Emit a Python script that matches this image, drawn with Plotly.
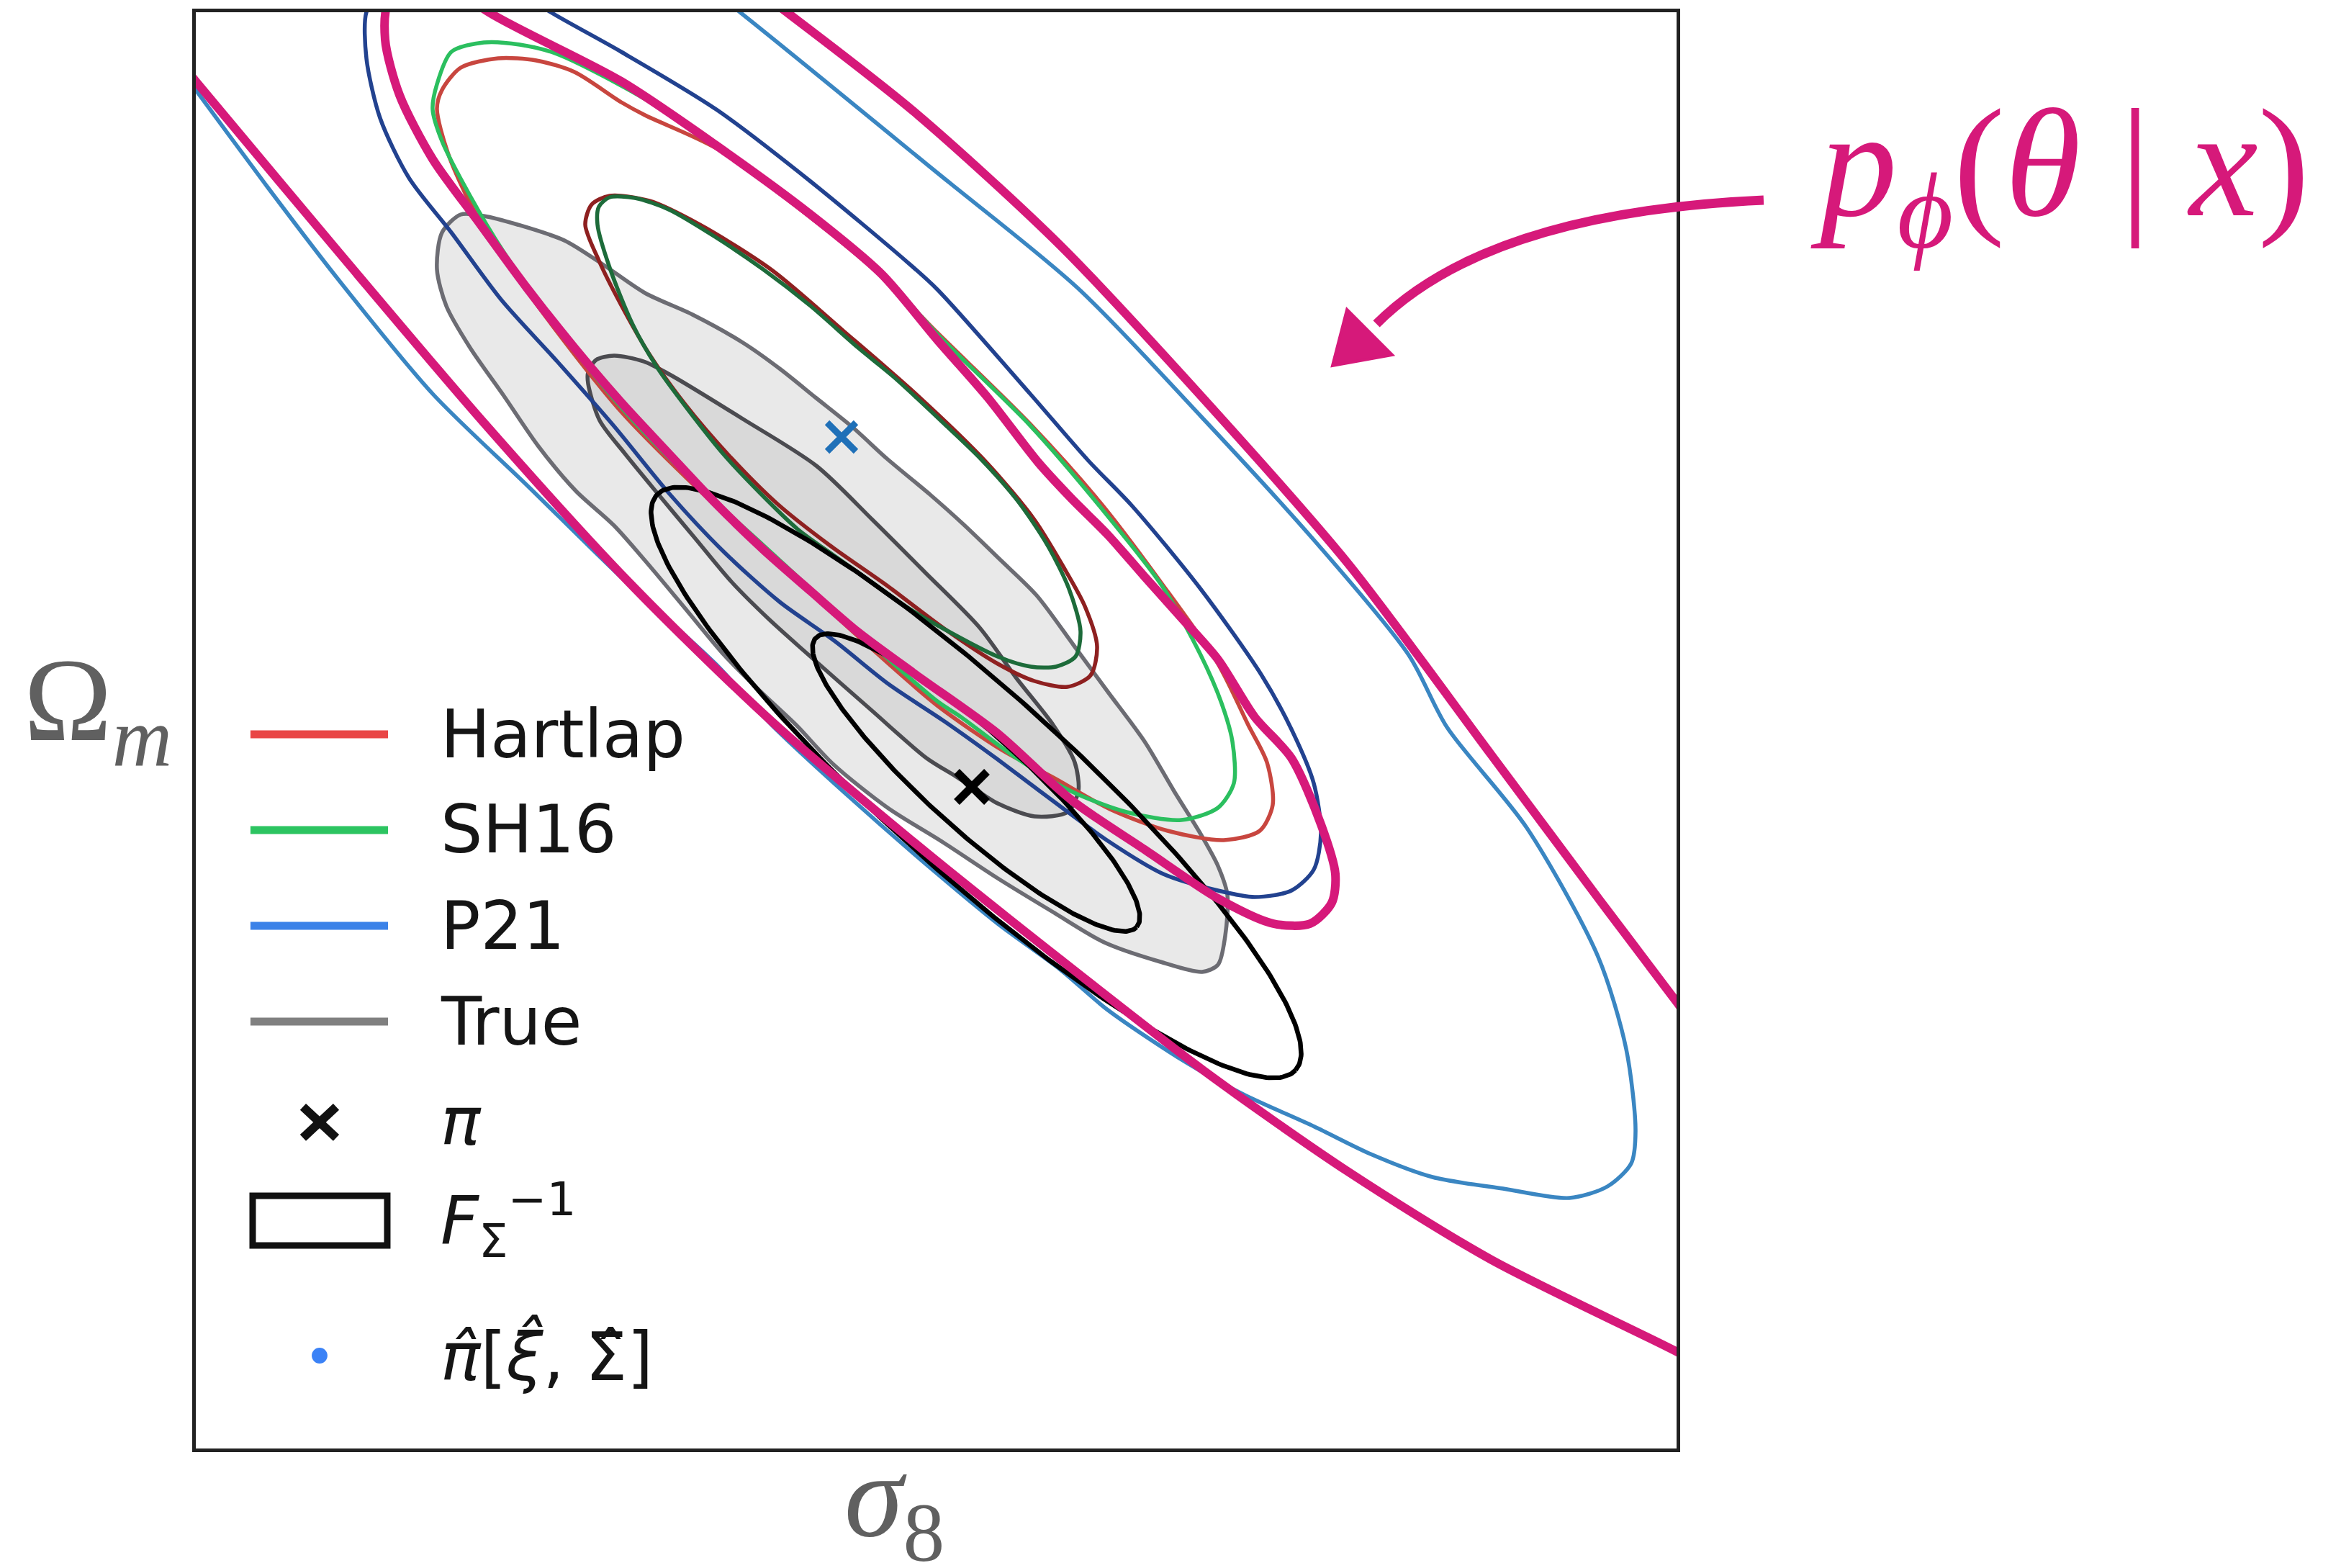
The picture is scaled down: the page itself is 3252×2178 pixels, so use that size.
import numpy as np
import plotly.graph_objects as go

# ---------------- data (plot units: sigma_8 horizontal 0..2057, Omega_m vertical 0..1995) ----------------
X_RANGE = [0, 2057]
Y_RANGE = [0, 1995]

# "True" posterior contours (outer = 2 sigma, inner = 1 sigma)
TRUE_OUTER_X = [368, 400, 447, 512, 565, 624, 690, 760, 811, 862, 913, 960, 1020, 1066, 1117, 1168, 1220, 1267, 1318,
                1359, 1395, 1420, 1433, 1430, 1420, 1398, 1340, 1262, 1191, 1114, 1038, 961, 886, 834, 785, 734, 683,
                632, 581, 528, 476, 428, 381, 348, 335, 342, 368]
TRUE_OUTER_Y = [1714, 1712, 1700, 1678, 1645, 1605, 1575, 1536, 1500, 1459, 1418, 1375, 1325, 1284, 1235, 1185, 1115,
                1051, 982, 913, 855, 809, 769, 712, 672, 662, 676, 703, 745, 792, 842, 890, 950, 1005, 1051, 1102, 1163,
                1224, 1282, 1330, 1392, 1462, 1529, 1587, 1638, 1689, 1714]
TRUE_INNER_X = [545, 556, 581, 622, 658, 760, 862, 940, 1012, 1089, 1140, 1191, 1221, 1226, 1211, 1165, 1114, 1078,
                1055, 1015, 938, 846, 795, 744, 693, 642, 596, 561, 545, 545]
TRUE_INNER_Y = [1495, 1512, 1518, 1510, 1492, 1430, 1365, 1290, 1218, 1140, 1070, 1005, 953, 913, 884, 878, 896, 919,
                934, 959, 1026, 1107, 1153, 1204, 1265, 1326, 1382, 1428, 1479, 1495]

# Hartlap contours
HARTLAP_OUTER_X = [335, 342, 368, 420, 473, 526, 591, 624, 723, 854, 953, 1030, 1159, 1258, 1343, 1420, 1462, 1488,
                   1496, 1478, 1428, 1350, 1270, 1191, 1120, 1030, 920, 788, 690, 591, 499, 427, 381, 350, 335]
HARTLAP_OUTER_Y = [1861, 1887, 1918, 1931, 1928, 1912, 1870, 1852, 1806, 1710, 1628, 1550, 1423, 1312, 1200, 1090,
                   1005, 953, 894, 858, 845, 858, 888, 932, 970, 1032, 1128, 1250, 1340, 1440, 1555, 1655, 1730, 1800,
                   1861]
HARTLAP_INNER_X = [541, 550, 575, 630, 700, 800, 900, 1000, 1100, 1165, 1205, 1235, 1252, 1243, 1211, 1165, 1114, 1038,
                   961, 880, 808, 740, 680, 630, 590, 560, 541]
HARTLAP_INNER_Y = [1700, 1728, 1740, 1733, 1700, 1637, 1552, 1465, 1368, 1290, 1225, 1170, 1114, 1074, 1058, 1066,
                   1090, 1140, 1198, 1255, 1312, 1380, 1450, 1520, 1590, 1650, 1700]

# SH16 contours
SH16_OUTER_X = [335, 355, 400, 450, 499, 591, 690, 723, 854, 953, 1030, 1159, 1258, 1343, 1396, 1425, 1440, 1442, 1420,
                1369, 1293, 1216, 1140, 1063, 1030, 920, 788, 690, 591, 499, 427, 381, 342, 329, 335]
SH16_OUTER_Y = [1895, 1940, 1953, 1950, 1938, 1893, 1835, 1812, 1716, 1633, 1548, 1421, 1306, 1197, 1102, 1035, 982,
                924, 890, 873, 884, 913, 959, 1016, 1038, 1134, 1255, 1344, 1446, 1561, 1663, 1740, 1816, 1860, 1895]
SH16_INNER_X = [560, 575, 610, 657, 723, 788, 854, 920, 970, 1040, 1091, 1142, 1183, 1213, 1229, 1222, 1195, 1160, 1114,
                1040, 989, 938, 887, 836, 785, 734, 683, 642, 607, 575, 558, 560]
SH16_INNER_Y = [1725, 1738, 1737, 1721, 1682, 1638, 1587, 1529, 1488, 1423, 1374, 1316, 1255, 1194, 1135, 1100, 1086,
                1086, 1100, 1138, 1168, 1204, 1240, 1277, 1326, 1380, 1444, 1500, 1561, 1640, 1700, 1725]

# P21 contours (partly outside the frame, clipped)
P21_OUTER_X = [-120, 0, 99, 197, 329, 460, 591, 723, 800, 900, 1028, 1114, 1200, 1267, 1376, 1455, 1554, 1632, 1718,
               1816, 1908, 1961, 1994, 2000, 1987, 1948, 1849, 1738, 1685, 1554, 1396, 1225, 1030, 756, 620]
P21_OUTER_Y = [2050, 1887, 1753, 1625, 1465, 1338, 1210, 1089, 1005, 912, 800, 729, 666, 609, 536, 492, 447, 409, 377,
               361, 348, 364, 396, 441, 555, 683, 862, 1002, 1102, 1261, 1434, 1612, 1772, 1995, 2100]
P21_INNER_X = [420, 330, 255, 237, 237, 256, 296, 355, 424, 502, 581, 658, 734, 811, 887, 962, 1040, 1110, 1170, 1267,
               1344, 1420, 1471, 1522, 1553, 1563, 1553, 1522, 1480, 1395, 1300, 1240, 1159, 1030, 986, 854, 723, 591,
               493, 440]
P21_INNER_Y = [2060, 2050, 2020, 1995, 1931, 1848, 1765, 1689, 1596, 1510, 1420, 1326, 1245, 1176, 1122, 1062, 1010,
               960, 915, 844, 798, 775, 766, 775, 804, 855, 924, 999, 1075, 1195, 1310, 1372, 1465, 1610, 1650, 1760,
               1860, 1940, 1995, 2030]

# Fisher forecast ellipses F_Sigma^-1 (1 and 2 sigma)
FISHER_CENTER = (1084, 925)
FISHER_ANGLE_DEG = -42.0
FISHER_SEMI_MAJOR = [300, 597]
FISHER_SEMI_MINOR = [67, 126]

# point estimates
PI_TRUE = (1078, 919)
PI_HAT = (897, 1405)

# hand-drawn highlight of p_phi(theta|x)
HL_INNER_X = [330, 268, 263, 283, 329, 394, 460, 526, 591, 657, 723, 788, 854, 920, 1000, 1114, 1216, 1318, 1420, 1497,
              1548, 1578, 1583, 1563, 1522, 1471, 1420, 1369, 1318, 1267, 1216, 1170, 1100, 1030, 953, 854, 723, 591,
              407, 340]
HL_INNER_Y = [2060, 2010, 1957, 1880, 1791, 1702, 1612, 1529, 1453, 1382, 1312, 1249, 1191, 1134, 1075, 993, 901, 832,
              764, 729, 729, 758, 798, 867, 959, 1016, 1096, 1154, 1211, 1269, 1320, 1370, 1460, 1540, 1631, 1714,
              1810, 1899, 1995, 2045]
HL_OUTER_X = [760, 821, 1000, 1200, 1400, 1600, 1800, 1950, 2058, 2110, None,
              2110, 2058, 1800, 1600, 1400, 1200, 1000, 800, 600, 400, 200, 0, -50]
HL_OUTER_Y = [2040, 1995, 1855, 1672, 1458, 1230, 963, 762, 619, 548, None,
              105, 134, 262, 385, 525, 680, 840, 1010, 1205, 1425, 1660, 1899, 1960]

LEGEND_LABELS = ["Hartlap", "SH16", "P21", "True", "<i>π</i>",
                 "<i>F</i><sub>Σ</sub><sup>−1</sup>", "<i>π̂</i>[<i>ξ̂</i>, Σ̂]"]
LEGEND_COLORS = ["#e94646", "#2cc461", "#3b82e8", "#808080", "#111111", "#111111", "#3b82f6"]

# ---------------- styling ----------------
PINK = "#d6197a"
C_GRAY_OUT, F_GRAY_OUT = "#6c6c73", "#e9e9e9"
C_GRAY_IN, F_GRAY_IN = "#4b4b50", "#d9d9d9"
LW = 5.5


def ellipse(center, a, b, ang_deg, n=361):
    t = np.linspace(0, 2 * np.pi, n)
    c, s = np.cos(np.radians(ang_deg)), np.sin(np.radians(ang_deg))
    x = center[0] + a * np.cos(t) * c - b * np.sin(t) * s
    y = center[1] + a * np.cos(t) * s + b * np.sin(t) * c
    return x, y


fig = go.Figure()


def curve(x, y, color, width, fill=None, fillcolor=None):
    fig.add_trace(go.Scatter(x=x, y=y, mode="lines", fill=fill, fillcolor=fillcolor,
                             line=dict(color=color, width=width, shape="spline", smoothing=0.8),
                             hoverinfo="skip", showlegend=False))


curve(TRUE_OUTER_X, TRUE_OUTER_Y, C_GRAY_OUT, LW, "toself", F_GRAY_OUT)
curve(TRUE_INNER_X, TRUE_INNER_Y, C_GRAY_IN, LW, "toself", F_GRAY_IN)
curve(P21_OUTER_X, P21_OUTER_Y, "#3a86c2", LW)
curve(P21_INNER_X, P21_INNER_Y, "#22428f", LW)
curve(HARTLAP_OUTER_X, HARTLAP_OUTER_Y, "#c8463f", LW)
curve(SH16_OUTER_X, SH16_OUTER_Y, "#2bbf5f", LW)
curve(HARTLAP_INNER_X, HARTLAP_INNER_Y, "#8e2020", LW)
curve(SH16_INNER_X, SH16_INNER_Y, "#1d6b3a", LW)

for a, b in zip(FISHER_SEMI_MAJOR, FISHER_SEMI_MINOR):
    ex, ey = ellipse(FISHER_CENTER, a, b, FISHER_ANGLE_DEG)
    fig.add_trace(go.Scatter(x=ex, y=ey, mode="lines", line=dict(color="black", width=6.5),
                             hoverinfo="skip", showlegend=False))

curve(HL_INNER_X, HL_INNER_Y, PINK, 12)
curve(HL_OUTER_X, HL_OUTER_Y, PINK, 12)

fig.add_trace(go.Scatter(x=[PI_HAT[0]], y=[PI_HAT[1]], mode="markers",
                         marker=dict(symbol="x-thin", size=40, line=dict(color="#1f70b8", width=9)),
                         hoverinfo="skip", showlegend=False))
fig.add_trace(go.Scatter(x=[PI_TRUE[0]], y=[PI_TRUE[1]], mode="markers",
                         marker=dict(symbol="x-thin", size=42, line=dict(color="black", width=11)),
                         hoverinfo="skip", showlegend=False))

# ---------------- hand-made legend (paper coordinates) ----------------
shapes = []
annotations = []
row_y = [0.4972, 0.4306, 0.3639, 0.2972, 0.2271, 0.1589, 0.0647]
lx0, lx1, lxc, tx = 0.0369, 0.1298, 0.0836, 0.1643
for i in range(4):
    shapes.append(dict(type="line", xref="paper", yref="paper", x0=lx0, x1=lx1, y0=row_y[i], y1=row_y[i],
                       line=dict(color=LEGEND_COLORS[i], width=11)))
dx, dy = 0.0112, 0.0108
for sgn in (1, -1):
    shapes.append(dict(type="line", xref="paper", yref="paper", x0=lxc - dx, x1=lxc + dx,
                       y0=row_y[4] - sgn * dy, y1=row_y[4] + sgn * dy,
                       line=dict(color=LEGEND_COLORS[4], width=12)))
shapes.append(dict(type="rect", xref="paper", yref="paper", x0=0.0384, x1=0.1293, y0=0.1414, y1=0.1759,
                   line=dict(color=LEGEND_COLORS[5], width=9), fillcolor="rgba(0,0,0,0)"))
shapes.append(dict(type="circle", xref="paper", yref="paper", x0=lxc - 0.0053, x1=lxc + 0.0053,
                   y0=row_y[6] - 0.0055, y1=row_y[6] + 0.0055,
                   line=dict(color=LEGEND_COLORS[6], width=0), fillcolor=LEGEND_COLORS[6]))
for lab, yy in zip(LEGEND_LABELS, row_y):
    annotations.append(dict(text=lab, xref="paper", yref="paper", x=tx, y=yy, xanchor="left", yanchor="middle",
                            showarrow=False, font=dict(family="DejaVu Sans", size=92, color="#151515")))

# curved arrow pointing to the highlighted contour
shapes.append(dict(type="path", xref="paper", yref="paper",
                   path="M 1.0588 0.8692 Q 0.8726 0.8607 0.7973 0.7830",
                   line=dict(color=PINK, width=13)))
shapes.append(dict(type="path", xref="paper", yref="paper",
                   path="M 0.7774 0.7930 L 0.7676 0.7539 L 0.8080 0.7614 Z",
                   line=dict(color=PINK, width=4), fillcolor=PINK))

# axis labels and annotation text
annotations.append(dict(text="Ω<sub><i>m</i></sub>", xref="paper", yref="paper", x=-0.0150, y=0.515,
                        xanchor="right", yanchor="middle", showarrow=False,
                        font=dict(family="Liberation Serif", size=165, color="#606060")))
annotations.append(dict(text="<i>σ</i><sub>8</sub>", xref="paper", yref="paper", x=0.472, y=0.014,
                        xanchor="center", yanchor="top", showarrow=False,
                        font=dict(family="Liberation Serif", size=165, color="#606060")))
annotations.append(dict(text="<i>p</i><sub><i>ϕ</i></sub>(<i>θ</i> | <i>x</i>)", xref="paper", yref="paper",
                        x=1.259, y=0.887, xanchor="center", yanchor="middle", showarrow=False,
                        font=dict(family="Liberation Serif", size=215, color=PINK)))

axis_style = dict(showgrid=False, zeroline=False, showticklabels=False, ticks="", showline=True, mirror=True,
                  linecolor="#222222", linewidth=5)
fig.update_layout(
    width=3252, height=2178,
    margin=dict(l=272, r=923, t=17, b=166),
    paper_bgcolor="white", plot_bgcolor="white",
    showlegend=False,
    xaxis=dict(range=X_RANGE, **axis_style),
    yaxis=dict(range=Y_RANGE, **axis_style),
    shapes=shapes, annotations=annotations,
)

fig.write_html("out.html")
